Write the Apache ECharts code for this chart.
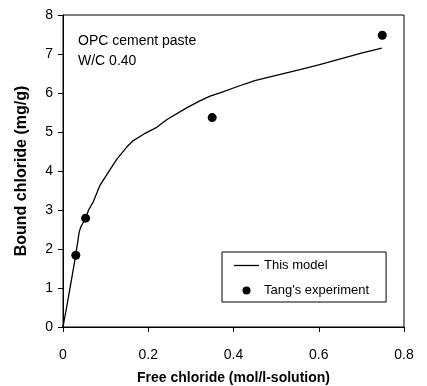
<!DOCTYPE html>
<html>
<head>
<meta charset="utf-8">
<script src="https://cdn.jsdelivr.net/npm/echarts@6/dist/echarts.min.js"></script>
<style>
  html, body { margin: 0; padding: 0; background: #fff; }
  #chart { width: 427px; height: 386px; }
</style>
</head>
<body>
<div id="chart"></div>
<script>
// model curve
const modelX = [0, 0.01, 0.02, 0.03, 0.038, 0.042, 0.053, 0.06, 0.071, 0.087, 0.11, 0.126, 0.15, 0.165, 0.19, 0.22, 0.244, 0.29, 0.32, 0.345, 0.37, 0.408, 0.45, 0.5, 0.556, 0.6, 0.666, 0.7, 0.748];
const modelY = [0, 0.6, 1.22, 1.85, 2.44, 2.57, 2.79, 3.0, 3.21, 3.64, 4.03, 4.3, 4.62, 4.78, 4.95, 5.12, 5.32, 5.62, 5.79, 5.92, 6.01, 6.16, 6.32, 6.45, 6.6, 6.72, 6.92, 7.02, 7.15];

// Tang's experiment
const expX = [0.03, 0.053, 0.35, 0.749];
const expY = [1.84, 2.79, 5.37, 7.48];

const xTicks = [0, 0.2, 0.4, 0.6, 0.8];

const chart = echarts.init(document.getElementById("chart"));

const option = {
    animation: false,
    textStyle: { fontFamily: "Liberation Sans, Arial, sans-serif", color: "#000" },
    title: {
        text: "OPC cement paste\nW/C 0.40",
        left: 78,
        top: 31,
        padding: 0,
        textStyle: {
            fontSize: 14,
            fontWeight: "normal",
            color: "#000",
            lineHeight: 20,
        },
    },
    grid: {
        left: 63,
        right: 23,
        top: 15,
        bottom: 59,
        show: true,
        borderColor: "#000",
        borderWidth: 1,
        outerBoundsMode: "none",
    },
    legend: {
        orient: "vertical",
        left: 222,
        top: 252,
        padding: [7, 17, 5, 12],
        itemGap: 12,
        itemWidth: 25,
        itemHeight: 8,
        borderColor: "#000",
        borderWidth: 1,
        backgroundColor: "#fff",
        textStyle: { fontSize: 13, color: "#000" },
        data: [
            { name: "This model", icon: "path://M0,0 L25,0 L25,1.3 L0,1.3 Z", itemStyle: { color: "#000" } },
            { name: "Tang's experiment", icon: "circle", itemStyle: { color: "#000", opacity: 1 } },
        ],
    },
    xAxis: {
        type: "value",
        min: 0,
        max: 0.8,
        interval: 0.2,
        name: "Free chloride (mol/l-solution)",
        nameLocation: "middle",
        nameGap: 44,
        nameTextStyle: { fontSize: 14, fontWeight: "bold", color: "#000" },
        axisLine: { lineStyle: { color: "#000", width: 1 } },
        axisTick: { show: true, inside: false, length: 5, lineStyle: { color: "#000" } },
        axisLabel: {
            fontSize: 14,
            color: "#000",
            margin: 21,
            formatter: (v) => (xTicks.includes(+v.toFixed(1)) ? String(+v.toFixed(1)) : ""),
        },
        splitLine: { show: false },
    },
    yAxis: {
        type: "value",
        min: 0,
        max: 8,
        interval: 1,
        name: "Bound chloride (mg/g)",
        nameLocation: "middle",
        nameGap: 33,
        nameTextStyle: { fontSize: 16, fontWeight: "bold", color: "#000" },
        axisLine: { show: true, lineStyle: { color: "#000", width: 1 } },
        axisTick: { show: true, inside: false, length: 5, lineStyle: { color: "#000" } },
        axisLabel: { fontSize: 14, color: "#000", margin: 10 },
        splitLine: { show: false },
    },
    series: [
        {
            name: "This model",
            type: "line",
            symbol: "none",
            smooth: false,
            data: modelX.map((x, i) => [x, modelY[i]]),
            lineStyle: { color: "#000", width: 1.3 },
            itemStyle: { color: "#000" },
        },
        {
            name: "Tang's experiment",
            type: "scatter",
            symbol: "circle",
            symbolSize: 9,
            data: expX.map((x, i) => [x, expY[i]]),
            itemStyle: { color: "#000", opacity: 1 },
        },
    ],
};

chart.setOption(option);
</script>
</body>
</html>
